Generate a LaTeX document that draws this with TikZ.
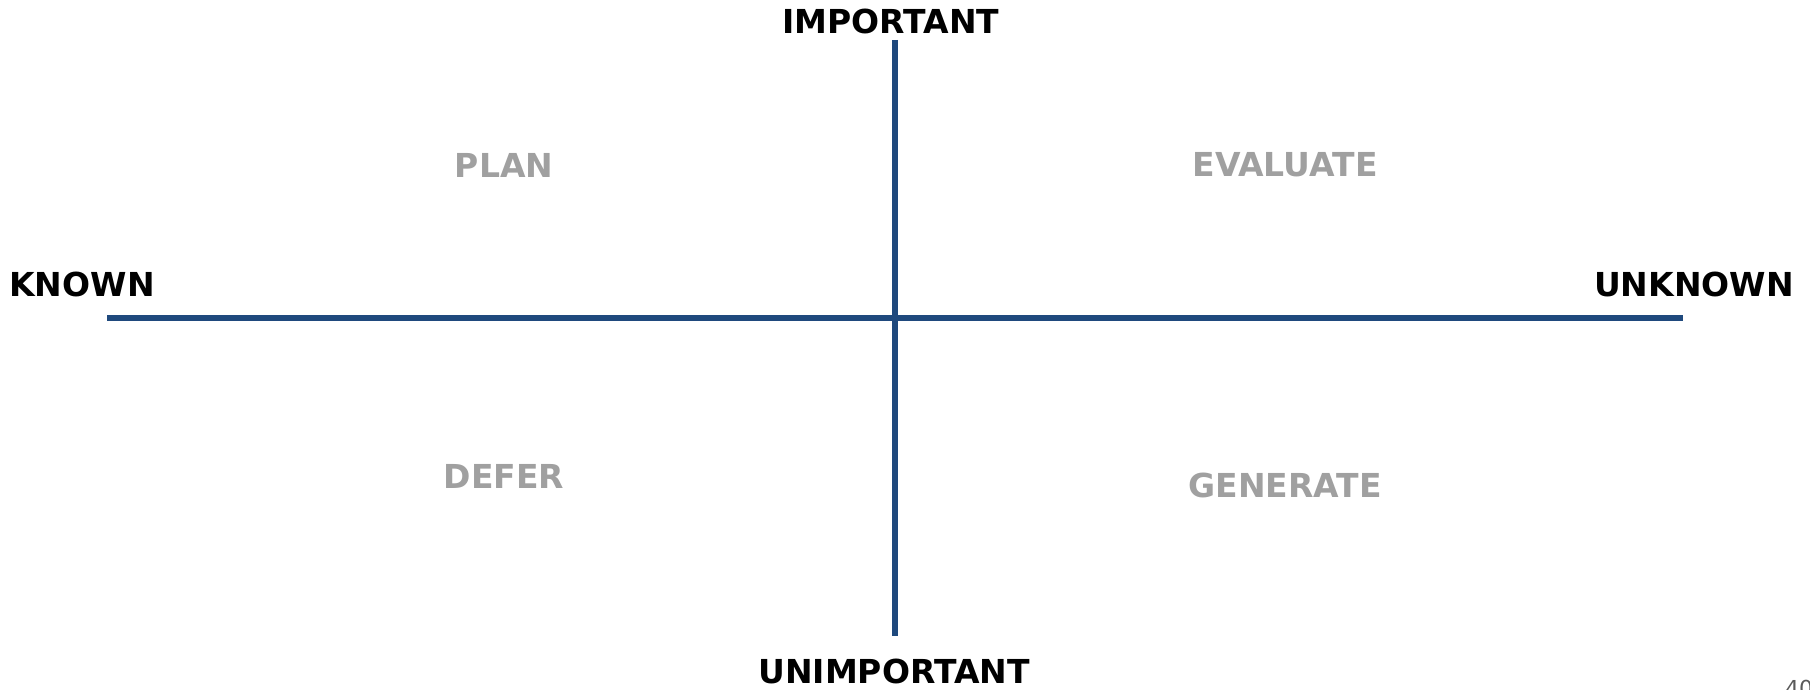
\documentclass[tikz,border=0pt]{standalone}
\usepackage{fontspec}
\setmainfont{DejaVu Sans}
\definecolor{axisblue}{RGB}{31,73,125}
\definecolor{quadgray}{RGB}{160,160,160}
\definecolor{pagegray}{RGB}{90,90,90}
\begin{document}
\begin{tikzpicture}[x=1bp,y=-1bp,
  axislabel/.style={font=\fontsize{33bp}{36bp}\selectfont\bfseries, text=black, inner sep=0pt},
  quadlabel/.style={font=\fontsize{33bp}{36bp}\selectfont\bfseries, text=quadgray, inner sep=0pt},
  axisline/.style={draw=axisblue, line width=6bp}]
\useasboundingbox (0,0) rectangle (1810,690);
\clip (0,0) rectangle (1810,690);
\coordinate (top) at (894.5,40);
\coordinate (bottom) at (894.5,636);
\coordinate (left) at (107,318);
\coordinate (right) at (1683,318);
\draw[axisline] (left) -- (right);
\draw[axisline] (top) -- (bottom);
\node[axislabel] (important) at (891,21) {IMPORTANT};
\node[axislabel] (unimportant) at (894,671) {UNIMPORTANT};
\node[axislabel] (known) at (82,284) {KNOWN};
\node[axislabel] (unknown) at (1694,284) {UNKNOWN};
\node[quadlabel] (plan) at (504,165) {PLAN};
\node[quadlabel] (evaluate) at (1285,165) {EVALUATE};
\node[quadlabel] (defer) at (504,476) {DEFER};
\node[quadlabel] (generate) at (1285,485) {GENERATE};
\node[font=\fontsize{22bp}{26bp}\selectfont, text=pagegray, anchor=north west, inner sep=0pt] (page) at (1785,680) {40};
\end{tikzpicture}
\end{document}
